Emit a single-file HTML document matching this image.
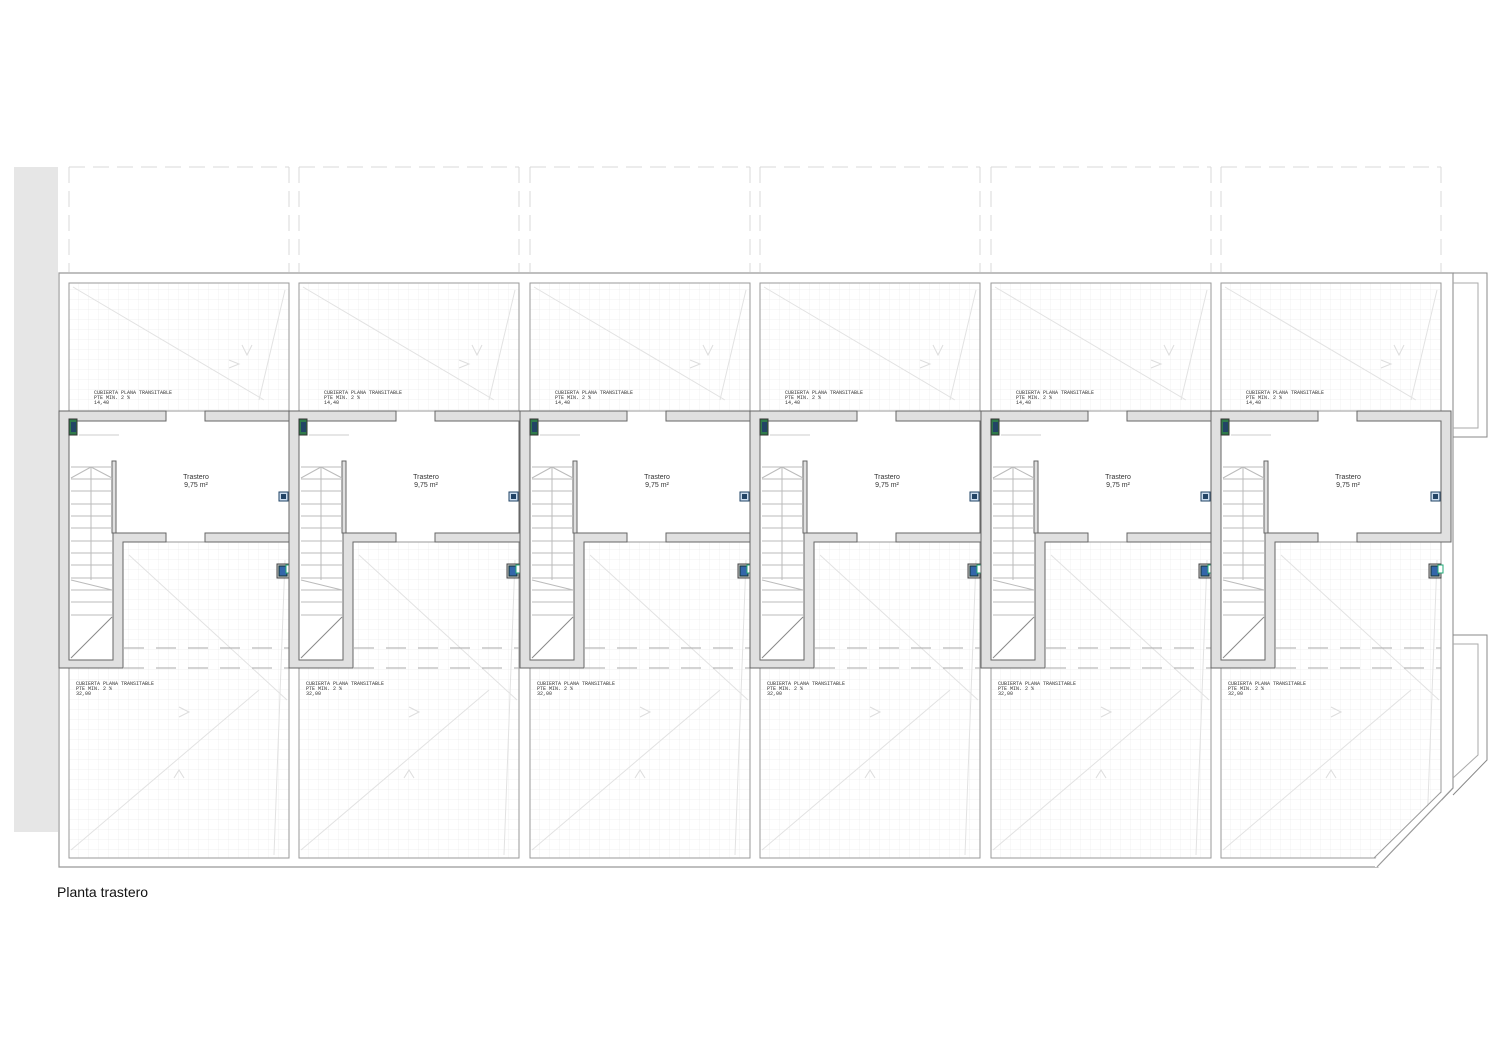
<!DOCTYPE html>
<html><head><meta charset="utf-8"><style>
body{margin:0;background:#fff;width:1500px;height:1060px;overflow:hidden}
svg{display:block}
text{font-family:"Liberation Mono",monospace;fill:#333}
text.s{font-family:"Liberation Sans",sans-serif}
</style></head><body>
<svg width="1500" height="1060" viewBox="0 0 1500 1060" xmlns="http://www.w3.org/2000/svg">
<defs>
<pattern id="grid" width="10" height="10" patternUnits="userSpaceOnUse">
<path d="M10 0V10H0" fill="none" stroke="#ececec" stroke-width="0.7"/>
</pattern>
<g id="m">
 <path d="M10 167H230M10 167V272M230 167V272" stroke="#d8d8d8" stroke-width="1" stroke-dasharray="16 8" fill="none"/>
 <rect x="10" y="283" width="220" height="128" fill="url(#grid)" stroke="#9a9a9a" stroke-width="1"/>
 <path d="M14 287L205 400M200 400L226 290" stroke="#e2e2e2" stroke-width="1" fill="none"/>
 <path d="M183 345l5 10l5-10M170 368l10-4l-10-4" stroke="#ddd" fill="none"/>
 <rect x="10" y="542" width="220" height="316" fill="url(#grid)" stroke="#9a9a9a" stroke-width="1"/>
 <path d="M70 555L228 700M12 850L200 690M226 560L215 855" stroke="#e2e2e2" stroke-width="1" fill="none"/>
 <path d="M120 707l10 5l-10 5M115 778l5-8l5 8" stroke="#ddd" fill="none"/>
 <path d="M65 648H230M65 668H230" stroke="#aaa" stroke-width="1" stroke-dasharray="20 12" fill="none"/>
 <rect x="10" y="421" width="220" height="112" fill="#fff"/>
 <rect x="10" y="421" width="44" height="239" fill="#fff"/>
 <path d="M0 411H107V421H10V660H54V533H107V542H64V668H0Z" fill="#e0e0e0" stroke="#666" stroke-width="1"/>
 <path d="M146 411H240V542H146V533H230V421H146Z" fill="#e0e0e0" stroke="#666" stroke-width="1"/>
 <rect x="53" y="461" width="4" height="72" fill="#e0e0e0" stroke="#666" stroke-width="1"/>
 <g stroke="#bbb" stroke-width="1" fill="none">
  <path d="M12 467H53M12 479H53M12 491H53M12 504H53M12 516H53M12 528H53M12 541H53M12 553H53M12 565H53M12 578H53M12 590H53M12 602H53M12 615H53"/>
  <path d="M32 467V580M12 478L32 467L53 478M12 580L53 590"/>
  <path d="M12 658L53 617" stroke="#888"/>
 </g>
 <path d="M20 435H60" stroke="#ccc"/>
 <rect x="10" y="419" width="8" height="16" fill="#2f7a4a" stroke="#333"/>
 <rect x="12" y="422" width="5" height="10" fill="#246"/>
 <rect x="220" y="492" width="9" height="9" fill="#cde" stroke="#246"/>
 <rect x="222" y="494" width="5" height="5" fill="#246"/>
 <rect x="218" y="564" width="12" height="14" fill="#ccc" stroke="#444"/>
 <rect x="220" y="566" width="8" height="10" fill="#36a" stroke="#133"/>
 <rect x="227" y="565" width="5" height="8" fill="#fff" stroke="#2a7"/>
</g>
</defs>
<rect x="14" y="167" width="44" height="665" fill="#e6e6e6"/>
<path d="M59 273H1453V788L1378 867H59Z" fill="none" stroke="#999" stroke-width="1.2"/>
<path d="M1453 273H1487V437H1453" fill="none" stroke="#888"/>
<path d="M1453 283H1478V428H1453" fill="none" stroke="#aaa"/>
<path d="M1453 635H1487V760L1453 795" fill="none" stroke="#888"/>
<path d="M1453 644H1478V755L1453 778" fill="none" stroke="#aaa"/>
<use href="#m" x="59"/>
<use href="#m" x="289"/>
<use href="#m" x="520"/>
<use href="#m" x="750"/>
<use href="#m" x="981"/>
<use href="#m" x="1211"/>
<path d="M1375 859L1442 792V867H1375Z" fill="#fff"/>
<path d="M1374 858L1441 792" stroke="#999"/>
<path d="M1377 867L1453 788" stroke="#999" stroke-width="1.2"/>
<g font-size="5">
<text x="94" y="394">CUBIERTA PLANA TRANSITABLE</text><text x="94" y="399">PTE MIN. 2 %</text><text x="94" y="404">14,40</text>
<text x="324" y="394">CUBIERTA PLANA TRANSITABLE</text><text x="324" y="399">PTE MIN. 2 %</text><text x="324" y="404">14,40</text>
<text x="555" y="394">CUBIERTA PLANA TRANSITABLE</text><text x="555" y="399">PTE MIN. 2 %</text><text x="555" y="404">14,40</text>
<text x="785" y="394">CUBIERTA PLANA TRANSITABLE</text><text x="785" y="399">PTE MIN. 2 %</text><text x="785" y="404">14,40</text>
<text x="1016" y="394">CUBIERTA PLANA TRANSITABLE</text><text x="1016" y="399">PTE MIN. 2 %</text><text x="1016" y="404">14,40</text>
<text x="1246" y="394">CUBIERTA PLANA TRANSITABLE</text><text x="1246" y="399">PTE MIN. 2 %</text><text x="1246" y="404">14,40</text>
<text x="76" y="685">CUBIERTA PLANA TRANSITABLE</text><text x="76" y="690">PTE MIN. 2 %</text><text x="76" y="695">32,00</text>
<text x="306" y="685">CUBIERTA PLANA TRANSITABLE</text><text x="306" y="690">PTE MIN. 2 %</text><text x="306" y="695">32,00</text>
<text x="537" y="685">CUBIERTA PLANA TRANSITABLE</text><text x="537" y="690">PTE MIN. 2 %</text><text x="537" y="695">32,00</text>
<text x="767" y="685">CUBIERTA PLANA TRANSITABLE</text><text x="767" y="690">PTE MIN. 2 %</text><text x="767" y="695">32,00</text>
<text x="998" y="685">CUBIERTA PLANA TRANSITABLE</text><text x="998" y="690">PTE MIN. 2 %</text><text x="998" y="695">32,00</text>
<text x="1228" y="685">CUBIERTA PLANA TRANSITABLE</text><text x="1228" y="690">PTE MIN. 2 %</text><text x="1228" y="695">32,00</text>
</g>
<g font-size="7" text-anchor="middle">
<text class="s" x="196" y="479">Trastero</text><text class="s" x="196" y="487">9,75 m²</text>
<text class="s" x="426" y="479">Trastero</text><text class="s" x="426" y="487">9,75 m²</text>
<text class="s" x="657" y="479">Trastero</text><text class="s" x="657" y="487">9,75 m²</text>
<text class="s" x="887" y="479">Trastero</text><text class="s" x="887" y="487">9,75 m²</text>
<text class="s" x="1118" y="479">Trastero</text><text class="s" x="1118" y="487">9,75 m²</text>
<text class="s" x="1348" y="479">Trastero</text><text class="s" x="1348" y="487">9,75 m²</text>
</g>
<text class="s" x="57" y="897" font-size="14" style="fill:#111">Planta trastero</text>
</svg>
</body></html>
